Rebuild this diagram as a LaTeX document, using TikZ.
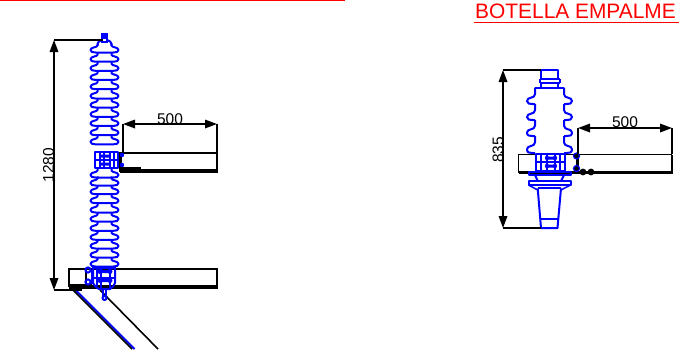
\documentclass[tikz,border=0pt]{standalone}
\usepackage{fontspec}
\setmainfont{Liberation Sans}
\usetikzlibrary{arrows.meta,calc}
\definecolor{insblue}{RGB}{0,0,255}
\tikzset{
  x=1bp,y=-1bp,
  dimline/.style={draw=black,line width=1.7bp,{Triangle[length=12bp,width=8.5bp]}-{Triangle[length=12bp,width=8.5bp]}},
  extline/.style={draw=black,line width=1.7bp},
  beam/.style={draw=black,line width=1.7bp},
  heavy/.style={draw=black,line width=3.4bp},
  ins/.style={draw=insblue,line width=2bp,line join=round},
  insthin/.style={draw=insblue,line width=1.5bp},
  dimtext/.style={font=\fontsize{15.5bp}{15.5bp}\selectfont,inner sep=0pt},
}
% small shed: centre x, tip y (both sides and cross line)
\newcommand{\shedL}[2]{
  \draw[ins] (#1-7,#2-6.7) -- (#1-7,#2-4.5) .. controls (#1-7,#2-2.5) and (#1-14,#2-3) .. (#1-14,#2)
     .. controls (#1-14,#2+1.8) and (#1-12,#2+2.5) .. (#1-9,#2+2.5) -- (#1+9,#2+2.5)
     .. controls (#1+12,#2+2.5) and (#1+14,#2+1.8) .. (#1+14,#2)
     .. controls (#1+14,#2-3) and (#1+7,#2-2.5) .. (#1+7,#2-4.5) -- (#1+7,#2-6.7);
}
% big shed sides only: centre x, top y, tip y, bottom y
\newcommand{\shedR}[4]{
  \draw[ins] (#1-14.5,#2) -- (#1-14.5,#3-7) .. controls (#1-14.5,#3-2) and (#1-22.5,#3-4.5) .. (#1-22.5,#3)
     .. controls (#1-22.5,#4-0.2) and (#1-20,#4) .. (#1-17,#4) -- (#1-14.5,#4);
  \draw[ins] (#1+14.5,#2) -- (#1+14.5,#3-7) .. controls (#1+14.5,#3-2) and (#1+22.5,#3-4.5) .. (#1+22.5,#3)
     .. controls (#1+22.5,#4-0.2) and (#1+20,#4) .. (#1+17,#4) -- (#1+14.5,#4);
}
\begin{document}
\begin{tikzpicture}
\useasboundingbox (0,0) rectangle (680,349);
\fill[white] (0,0) rectangle (680,349);

% top rule and title
\coordinate (ruleL) at (0,0.5);
\coordinate (ruleR) at (345,0.5);
\draw[red,line width=1.2bp] (ruleL) -- (ruleR);
\node[red,font=\fontsize{20.9bp}{20.9bp}\selectfont,inner sep=0pt] (title) at (575.5,11.5) {BOTELLA EMPALME};
\coordinate (titleL) at (474,22.5);
\coordinate (titleR) at (679,22.5);
\draw[red,line width=1.6bp] (titleL) -- (titleR);

%% ---------- left assembly ----------
\coordinate (diagA) at (72,289);
\coordinate (diagB) at (132,349);
\coordinate (diagC) at (100,290);
\coordinate (diagD) at (158,349);
\draw[insblue,line width=2bp] ($(diagA)+(2.5,0)$) -- ($(diagB)+(2.5,0)$);
\draw[black,line width=1.6bp] (diagA) -- (diagB);
\draw[black,line width=1.6bp] (diagC) -- (diagD);

% beams
\draw[beam] (122,153) -- (217,153) (217,153) -- (217,171);
\draw[heavy] (120,171) -- (218,171);
\draw[black,line width=2.4bp] (120.5,152) -- (120.5,172);
\draw[black,line width=3bp] (120,168) -- (141,168);
\draw[beam] (69,287) -- (69,269) -- (217,269) -- (217,287);
\draw[heavy] (69,287) -- (218,287);
\draw[black,line width=3.5bp] (69,285.5) -- (92,285.5);
\draw[black,line width=1.6bp] (86,270) -- (86,287);

% insulator left
\foreach \t in {50,59.2,68.3,77.4,86.7,96,105,114.3,123.4,132.7,141.8,175,183,191.7,200.7,210,219,228.3,237.3,246,255,264}{
  \shedL{104.5}{\t}
}
\draw[ins] (97.5,45.5) .. controls (97.5,41) and (100,41) .. (102,40) (111.5,45.5) .. controls (111.5,41) and (109,41) .. (107,40);
\draw[insthin] (102,34) rectangle (107,42);
\fill[insblue] (102,34) rectangle (107,38.5);

% middle terminal box
\draw[ins] (95,152) rectangle (118,168);
\draw[ins] (95,160) -- (118,160);
\draw[ins] (100,152) -- (100,168) (104,152) -- (104,168) (110,152) -- (110,168) (114,152) -- (114,168);
\fill[insblue] (100,154.5) rectangle (110,157.5) (100,162.5) rectangle (110,165.5);
\fill[insblue] (122,155) circle (2.2) (122,165) circle (2.2);

% lower terminal box
\draw[ins] (92,267) -- (116,267);
\draw[ins] (93,268) -- (115,268) -- (115,283) .. controls (114,286) and (112,288) .. (110,289) -- (99,289) .. controls (97,288) and (94,286) .. (93,283) -- cycle;
\draw[ins] (93,277.5) -- (115,277.5);
\draw[ins] (97,268) -- (97,286) (101,268) -- (101,288);
\draw[ins] (110,268) -- (110,288);
\fill[insblue] (100,270) rectangle (110,273) (100,279) rectangle (110,282);
\fill[insblue] (100,271.5) circle (2.5) (110,271.5) circle (2.5) (100,280.5) circle (2.5) (110,280.5) circle (2.5);
\draw[ins] (88,270) circle (2.6) (88,282) circle (2.6);
\draw[ins] (92,270) -- (92,284);
\draw[ins] (103,289) -- (103,297) (106,289) -- (106,297);
\draw[ins] (104.5,298) circle (2);

% left dimensions
\coordinate (dA) at (54,40);
\coordinate (dB) at (54,290);
\coordinate (dAe) at (103,40);
\coordinate (dBe) at (82,290);
\draw[extline] (dA) -- (dAe);
\draw[extline] (dB) -- (dBe);
\draw[dimline] (dA) -- (dB);
\node[dimtext,rotate=90] (l1280) at (48.5,165) {1280};
\coordinate (hA) at (123,124);
\coordinate (hB) at (217,124);
\coordinate (hAe) at (123,153);
\coordinate (hBe) at (217,153);
\draw[extline] (hA) -- (hAe);
\draw[extline] (hB) -- (hBe);
\draw[dimline] (hA) -- (hB);
\node[dimtext] (l500a) at (170,119) {500};

%% ---------- right assembly ----------
\draw[beam] (672,154.5) -- (518.5,154.5) -- (518.5,172.5);
\draw[beam] (672,154.5) -- (672,172.5);
\draw[heavy] (518.5,172.5) -- (673,172.5);
\draw[black,line width=2.4bp] (577.5,154) -- (577.5,172);

\draw[ins] (541,70) -- (558,70) -- (558,80) (541,70) -- (541,80);
\draw[ins] (539.5,79) -- (559.5,79);
\draw[ins] (539.5,83) -- (559.5,83);
\draw[ins] (539.5,79) -- (539.5,83) (559.5,79) -- (559.5,83);
\draw[ins] (541,83) -- (541,87.5) (558,83) -- (558,87.5);
\draw[ins] (535,87.5) -- (564,87.5);
\shedR{549.5}{87.5}{101}{104}
\shedR{549.5}{104}{117}{120}
\shedR{549.5}{120}{132.6}{136}
\shedR{549.5}{136}{149.3}{153}

\draw[ins] (536,153.5) rectangle (565,170.5);
\draw[ins] (536,162) -- (565,162);
\draw[ins] (541,154) -- (541,170) (547,154) -- (547,170) (555,154) -- (555,170) (560,154) -- (560,170);
\fill[insblue] (547,156.5) rectangle (555,159.5) (547,164.5) rectangle (555,167.5);
\fill[insblue] (547,158) circle (2.2) (555,158) circle (2.2) (547,166) circle (2.2) (555,166) circle (2.2);
\draw[ins] (528.5,172) -- (571,172) -- (571,175) -- (528.5,175) -- cycle;
\draw[ins] (535,175) -- (537.7,181) (564,175) -- (561,181);
\draw[ins] (528.5,181) -- (570.5,181) -- (570.5,185) -- (528.5,185) -- cycle;
\draw[insthin] (528.5,185) -- (537.7,190) (570.5,185) -- (561,190);
\draw[ins] (537.7,188.3) -- (561,188.3);
\draw[ins] (537.7,188.3) -- (541,228) -- (557.5,228) -- (561,188.3);
\draw[ins] (541,218.5) -- (558,218.5);

\fill[black] (583,172) circle (3.4) (591,172) circle (3.4);
\draw[insblue,fill=black,line width=1.2bp] (576.5,156) circle (3) (576.5,168.5) circle (3);

% right dimensions
\coordinate (rA) at (503,70);
\coordinate (rB) at (503,228);
\coordinate (rAe) at (541,70);
\coordinate (rBe) at (541,228);
\draw[extline] (rA) -- (rAe);
\draw[extline] (rB) -- (rBe);
\draw[dimline] (rA) -- (rB);
\node[dimtext,rotate=90] (l835) at (498,150) {835};
\coordinate (tA) at (578,128);
\coordinate (tB) at (672,128);
\coordinate (tAe) at (578,154);
\coordinate (tBe) at (672,154);
\draw[extline] (tA) -- (tAe);
\draw[extline] (tB) -- (tBe);
\draw[dimline] (tA) -- (tB);
\node[dimtext] (l500b) at (625,122.5) {500};
\end{tikzpicture}
\end{document}
